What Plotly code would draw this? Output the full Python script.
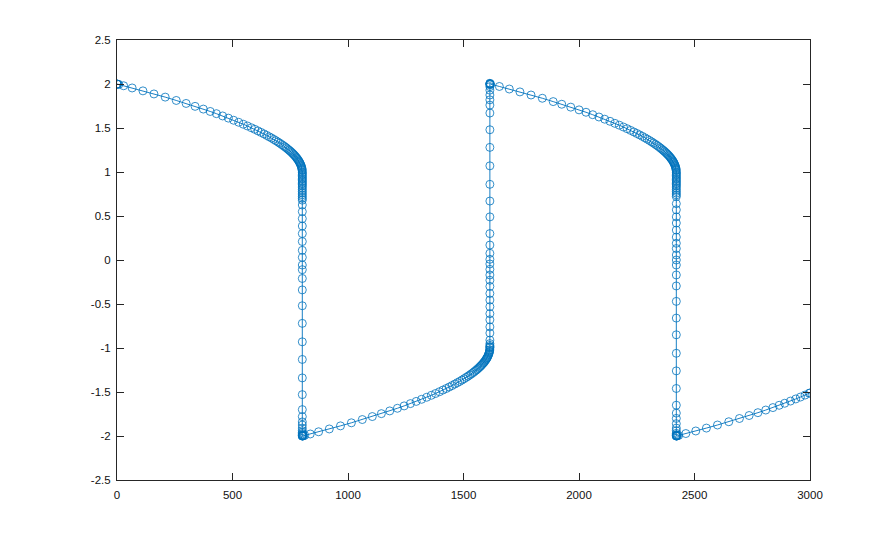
import plotly.graph_objects as go

# ---- data ----
# slow branch 1 (y from 2 down to 1)
t1 = [0, 1, 3, 8, 28.8, 65.6, 112.3, 160, 208.7, 256.5, 299.2, 338, 373.7, 403.6,
      430.4, 457.2, 482.1, 505, 526.8, 546.7, 564.6, 581.5, 596.4, 610.3,
      623.2, 636.2, 648.1, 659, 669, 678.9, 687.8, 696.8, 704.7, 712.7,
      719.7, 726.6, 732.6, 738.5, 744.5, 749.5, 754.4, 759.4, 763.4, 767.4,
      771.3, 775.3, 778.3, 781.3, 784.3, 787.2, 789.2, 791.2, 793.2, 795.2,
      796.7, 798.2, 799.5, 800.5, 801.2, 801.7, 802.1]
y1 = [2.0, 1.9993, 1.998, 1.9946, 1.980, 1.955, 1.922, 1.887, 1.851, 1.813, 1.779, 1.746, 1.715, 1.688,
      1.663, 1.637, 1.612, 1.588, 1.565, 1.543, 1.523, 1.503, 1.485, 1.467,
      1.450, 1.433, 1.416, 1.400, 1.386, 1.370, 1.356, 1.341, 1.327, 1.313,
      1.300, 1.287, 1.275, 1.262, 1.249, 1.238, 1.226, 1.2135, 1.203, 1.192,
      1.181, 1.168, 1.158, 1.1475, 1.136, 1.124, 1.115, 1.106, 1.095, 1.084,
      1.073, 1.062, 1.05, 1.04, 1.028, 1.02, 1.00]

# fast drop 1
jump1_t = 802.2
jump1_y = [0.99, 0.975, 0.96, 0.945, 0.93, 0.915, 0.90, 0.885, 0.87, 0.855,
           0.84, 0.82, 0.80, 0.78, 0.76, 0.74, 0.72, 0.70, 0.68, 0.625,
           0.55, 0.47, 0.386, 0.30, 0.21, 0.11, 0.03, -0.057, -0.11, -0.21,
           -0.34, -0.52, -0.72, -0.93, -1.13, -1.34, -1.53, -1.70, -1.78, -1.84,
           -1.875, -1.91, -1.94, -1.96, -1.975, -1.985, -1.993, -1.998, -2.001]

# slow branch 2 (y from -2 up to -1)
t2 = [802.4, 804.4, 807.4, 812.5, 836.6, 872.8, 919.1, 967.4, 1014.7, 1061.9,
      1105.2, 1144.4, 1180.7, 1213.9, 1243, 1270.2, 1295.3, 1318.5, 1340.6, 1360.7,
      1378.8, 1395.9, 1411, 1425.1, 1438.2, 1450.3, 1462.3, 1473.4, 1483.5, 1493.5,
      1502.6, 1511.6, 1519.7, 1527.7, 1534.8, 1541.8, 1547.8, 1553.9, 1558.9, 1563.9,
      1569, 1573, 1577, 1581, 1585.1, 1588.1, 1591.1, 1594.1, 1597.1, 1599.2,
      1601.2, 1603.2, 1605.2, 1607.2, 1608.7, 1610.2, 1611.5, 1612.5, 1613.2, 1613.7,
      1614.1]
y2 = [-2.0, -1.9987, -1.9966, -1.9933, -1.977, -1.952, -1.920, -1.885, -1.850, -1.813,
      -1.779, -1.746, -1.715, -1.685, -1.658, -1.632, -1.607, -1.583, -1.560, -1.5375,
      -1.517, -1.497, -1.478, -1.4606, -1.4436, -1.427, -1.410, -1.394, -1.380, -1.364,
      -1.349, -1.334, -1.3205, -1.306, -1.293, -1.279, -1.2666, -1.254, -1.243, -1.231,
      -1.219, -1.208, -1.198, -1.186, -1.174, -1.165, -1.155, -1.144, -1.132, -1.124,
      -1.115, -1.106, -1.095, -1.084, -1.073, -1.062, -1.05, -1.04, -1.028, -1.02,
      -1.00]

# fast rise
jump2_t = 1614.2
jump2_y = [-0.99, -0.985, -0.97, -0.95, -0.91, -0.83, -0.76, -0.68, -0.61, -0.53,
           -0.455, -0.38, -0.30, -0.23, -0.17, -0.106, -0.045, 0.008, 0.076, 0.17,
           0.30, 0.49, 0.67, 0.86, 1.07, 1.28, 1.48, 1.67, 1.76, 1.82,
           1.875, 1.93, 1.97, 1.99, 2.0, 2.005, 2.008]

# slow branch 3 (y from 2 down to 1)
t3 = [1614.3, 1617.3, 1655.3, 1698.3, 1744.3, 1792.3, 1841.3, 1888.3, 1925.3, 1964.3,
      2000.3, 2030.3, 2059.3, 2086.3, 2111.3, 2134.3, 2155.3, 2174.3, 2192.3, 2208.3,
      2223.3, 2237.3, 2250.3, 2262.3, 2274.3, 2285.3, 2295.3, 2305.3, 2314.3, 2322.3,
      2330.3, 2337.3, 2344.3, 2351.3, 2357.3, 2363.3, 2368.3, 2373.3, 2378.3, 2382.3,
      2386.3, 2390.3, 2394.3, 2397.3, 2400.3, 2403.3, 2406.3, 2408.3, 2410.3, 2412.3,
      2414.3, 2415.8, 2417.3, 2418.6, 2419.6, 2420.3, 2420.8, 2421.2]
y3 = [2.0, 1.998, 1.972, 1.943, 1.910, 1.875, 1.838, 1.800, 1.770, 1.737,
      1.706, 1.679, 1.651, 1.625, 1.600, 1.576, 1.553, 1.532, 1.511, 1.492,
      1.473, 1.455, 1.438, 1.422, 1.405, 1.389, 1.373, 1.358, 1.343, 1.329,
      1.315, 1.302, 1.289, 1.275, 1.262, 1.249, 1.238, 1.226, 1.2135, 1.203,
      1.192, 1.181, 1.168, 1.158, 1.1475, 1.136, 1.124, 1.115, 1.106, 1.095,
      1.084, 1.073, 1.062, 1.05, 1.04, 1.028, 1.02, 1.00]

# fast drop 2
jump3_t = 2421.3
jump3_y = [0.99, 0.975, 0.96, 0.945, 0.93, 0.915, 0.90, 0.885, 0.87, 0.855,
           0.84, 0.82, 0.80, 0.78, 0.76, 0.74, 0.72, 0.64, 0.57, 0.49,
           0.42, 0.34, 0.26, 0.19, 0.13, 0.057, 0.0, -0.057, -0.17, -0.295,
           -0.47, -0.66, -0.85, -1.06, -1.26, -1.46, -1.65, -1.74, -1.80, -1.86,
           -1.91, -1.94, -1.97, -1.985, -1.993, -1.998, -2.001]

# slow branch 4 (y from -2 up to about -1.5)
t4 = [2421.5, 2423.5, 2426.5, 2431.6, 2462.5, 2505.5, 2551.5, 2599.5, 2648.5, 2694.5,
      2736.5, 2774.5, 2808.5, 2839.5, 2866.5, 2890.5, 2915.5, 2938.5, 2958.5, 2978.5,
      2996.5, 3000]
y4 = [-2.0, -1.9987, -1.9966, -1.9933, -1.972, -1.943, -1.910, -1.875, -1.838, -1.801,
      -1.767, -1.735, -1.705, -1.677, -1.651, -1.628, -1.603, -1.579, -1.5575, -1.535,
      -1.5146, -1.5106]

x_ticks = [0, 500, 1000, 1500, 2000, 2500, 3000]
x_labels = ["0", "500", "1000", "1500", "2000", "2500", "3000"]
y_ticks = [-2.5, -2, -1.5, -1, -0.5, 0, 0.5, 1, 1.5, 2, 2.5]
y_labels = ["-2.5", "-2", "-1.5", "-1", "-0.5", "0", "0.5", "1", "1.5", "2", "2.5"]

# ---- assemble ----
t_all = (t1 + [jump1_t] * len(jump1_y) + t2 + [jump2_t] * len(jump2_y)
         + t3 + [jump3_t] * len(jump3_y) + t4)
y_all = y1 + jump1_y + y2 + jump2_y + y3 + jump3_y + y4

blue = "#0072BD"
axis_col = "#262626"

fig = go.Figure()
fig.add_trace(go.Scatter(
    x=t_all, y=y_all, mode="lines+markers",
    line=dict(color=blue, width=0.9),
    marker=dict(symbol="circle-open", size=8, color=blue, line=dict(width=0.8, color=blue)),
    showlegend=False, hoverinfo="skip",
))

axis_common = dict(
    showgrid=False, zeroline=False, showline=True, linecolor=axis_col, linewidth=1,
    mirror="ticks", ticks="inside", ticklen=7, tickwidth=1, tickcolor=axis_col,
    tickfont=dict(family="Liberation Sans, Arial, Helvetica, sans-serif", size=11.5, color="#111111"),
)

fig.update_xaxes(range=[0, 3000], tickvals=x_ticks, ticktext=x_labels,
                 ticklabelstandoff=4, **axis_common)
fig.update_yaxes(range=[-2.5, 2.5], tickvals=y_ticks, ticktext=y_labels,
                 ticklabelstandoff=3, **axis_common)

fig.update_layout(
    width=895, height=540,
    margin=dict(l=109, r=93, t=32, b=68),
    paper_bgcolor="white", plot_bgcolor="white",
)

fig.write_html("out.html")
